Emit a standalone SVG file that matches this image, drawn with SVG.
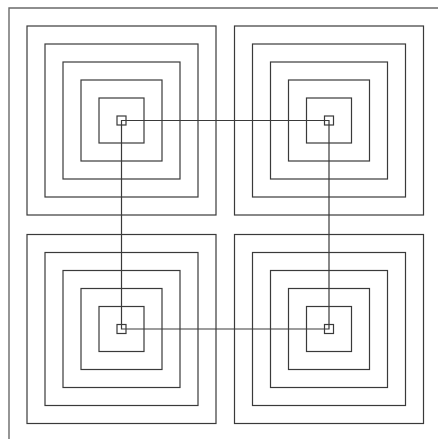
<svg xmlns="http://www.w3.org/2000/svg" width="438" height="439" viewBox="0 0 438 439">
  <defs>
    <style>
      .sq { fill: none; stroke: #3a3a3a; stroke-width: 1.2; }
      .frame { fill: none; stroke: #6a6a6a; stroke-width: 1.4; }
      .conn { fill: none; stroke: #3a3a3a; stroke-width: 1.2; }
    </style>
    <g id="nest">
      <rect class="sq" x="-94.5" y="-94.5" width="189" height="189"/>
      <rect class="sq" x="-76.5" y="-76.5" width="153" height="153"/>
      <rect class="sq" x="-58.5" y="-58.5" width="117" height="117"/>
      <rect class="sq" x="-40.5" y="-40.5" width="81" height="81"/>
      <rect class="sq" x="-22.5" y="-22.5" width="45" height="45"/>
      <rect class="sq" x="-4.5" y="-4.5" width="9" height="9"/>
    </g>
  </defs>
  <rect width="438" height="439" fill="#ffffff"/>
  <path class="frame" d="M9,440 V8 H440"/>
  <g id="node-tl" transform="translate(121.5,120.5)"><use href="#nest"/></g>
  <g id="node-tr" transform="translate(329,120.5)"><use href="#nest"/></g>
  <g id="node-bl" transform="translate(121.5,329)"><use href="#nest"/></g>
  <g id="node-br" transform="translate(329,329)"><use href="#nest"/></g>
  <g id="connectors">
    <path class="conn" d="M121.5,120.5 H329 V329 H121.5 Z"/>
  </g>
</svg>
